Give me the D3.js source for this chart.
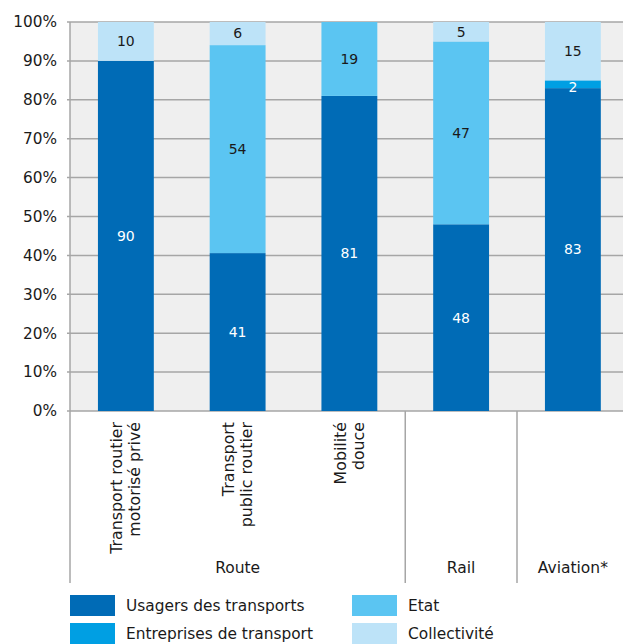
<!DOCTYPE html>
<html>
<head>
<meta charset="utf-8">
<script src="https://cdn.jsdelivr.net/npm/d3@7"></script>
<style>
  html, body { margin: 0; padding: 0; background: #fff; }
  svg { display: block; font-family: "DejaVu Sans", sans-serif; }
</style>
</head>
<body>
<svg id="chart" width="623" height="644"></svg>
<script>
// Cost shares by transport mode (percent)
const categories = [
  ["Transport routier", "motorisé privé"],
  ["Transport", "public routier"],
  ["Mobilité", "douce"],
  [""],
  [""]
];
const groups = ["Route", "Rail", "Aviation*"];
const groupSpans = [[0, 3], [3, 4], [4, 5]];

const seriesNames = ["Usagers des transports", "Entreprises de transport", "Etat", "Collectivité"];
const usagers      = [90, 41, 81, 48, 83];
const entreprises  = [0, 0, 0, 0, 2];
const etat         = [0, 54, 19, 47, 0];
const collectivite = [10, 6, 0, 5, 15];
const yTicks = [0, 10, 20, 30, 40, 50, 60, 70, 80, 90, 100];

const colors = ["#006bb6", "#009fe3", "#5bc5f2", "#bde3f8"];
const labelColors = ["#fff", "#fff", "#1a1a1a", "#1a1a1a"];

const svg = d3.select("#chart");
const plotLeft = 70, plotTop = 22, plotBottom = 411;
const step = 111.75;
const plotRight = plotLeft + step * categories.length;
const lineColor = "#a6a6a6";

const rows = categories.map((c, i) => ({
  i,
  s0: usagers[i], s1: entreprises[i], s2: etat[i], s3: collectivite[i]
}));
const keys = ["s0", "s1", "s2", "s3"];
const stacked = d3.stack().keys(keys).offset(d3.stackOffsetExpand)(rows);

const x = d3.scaleBand().domain(d3.range(categories.length)).range([plotLeft, plotRight]).paddingInner(0.5).paddingOuter(0.25);
const y = d3.scaleLinear().domain([0, 1]).range([plotBottom, plotTop]);

// plot background
svg.append("rect").attr("x", plotLeft).attr("y", plotTop).attr("width", plotRight - plotLeft).attr("height", plotBottom - plotTop).attr("fill", "#efefef");

// gridlines + ticks
svg.append("g").selectAll("line").data(yTicks).join("line")
  .attr("x1", plotLeft - 3).attr("x2", plotRight)
  .attr("y1", d => y(d / 100)).attr("y2", d => y(d / 100))
  .attr("stroke", lineColor).attr("stroke-width", 1.5);

svg.append("g").selectAll("text").data(yTicks).join("text")
  .attr("x", plotLeft - 13).attr("y", d => y(d / 100)).attr("dy", "0.35em")
  .attr("text-anchor", "end").attr("font-size", 15.3).attr("fill", "#1a1a1a")
  .text(d => d + "%");

// bars
const layers = svg.append("g").selectAll("g").data(stacked).join("g")
  .attr("fill", (d, k) => colors[k]);
layers.selectAll("rect").data(d => d).join("rect")
  .attr("x", d => x(d.data.i)).attr("width", x.bandwidth())
  .attr("y", d => y(d[1])).attr("height", d => y(d[0]) - y(d[1]));

// value labels
stacked.forEach((layer, k) => {
  svg.append("g").selectAll("text").data(layer.filter(d => d.data[keys[k]] > 0)).join("text")
    .attr("x", d => x(d.data.i) + x.bandwidth() / 2)
    .attr("y", d => (y(d[0]) + y(d[1])) / 2 + (d.data[keys[k]] < 4 && k === 1 ? 3 : 0))
    .attr("dy", "0.35em").attr("text-anchor", "middle")
    .attr("font-size", 14).attr("fill", labelColors[k])
    .text(d => d.data[keys[k]]);
});

// axis frame lines below the plot
const lowerEnd = 583;
svg.append("line").attr("x1", plotLeft).attr("x2", plotLeft).attr("y1", plotTop).attr("y2", lowerEnd)
  .attr("stroke", lineColor).attr("stroke-width", 1.5);
groupSpans.slice(1).forEach(([a]) => {
  const gx = plotLeft + step * a;
  svg.append("line").attr("x1", gx).attr("x2", gx).attr("y1", plotBottom).attr("y2", lowerEnd)
    .attr("stroke", lineColor).attr("stroke-width", 1.5);
});

// rotated category labels
categories.forEach((lines, i) => {
  const cx = x(i) + x.bandwidth() / 2;
  const n = lines.length;
  const t = svg.append("text")
    .attr("transform", `translate(${cx},${plotBottom + 11}) rotate(-90)`)
    .attr("text-anchor", "end").attr("font-size", 15.8).attr("fill", "#1a1a1a");
  lines.forEach((ln, j) => {
    t.append("tspan").attr("x", 0).attr("y", (j - (n - 1) / 2) * 18).attr("dy", "0.35em").text(ln);
  });
});

// group labels
groups.forEach((g, k) => {
  const [a, b] = groupSpans[k];
  const cx = (x(a) + x(b - 1) + x.bandwidth()) / 2;
  svg.append("text").attr("x", cx).attr("y", 573).attr("text-anchor", "middle")
    .attr("font-size", 15.5).attr("fill", "#1a1a1a").text(g);
});

// legend
const legendPos = [[70, 595], [70, 623], [352, 595], [352, 623]];
seriesNames.forEach((name, k) => {
  const [lx, ly] = legendPos[k];
  svg.append("rect").attr("x", lx).attr("y", ly).attr("width", 45).attr("height", 21).attr("fill", colors[k]);
  svg.append("text").attr("x", lx + 56).attr("y", ly + 10.5).attr("dy", "0.35em")
    .attr("font-size", 15.4).attr("fill", "#1a1a1a").text(name);
});
</script>
</body>
</html>
